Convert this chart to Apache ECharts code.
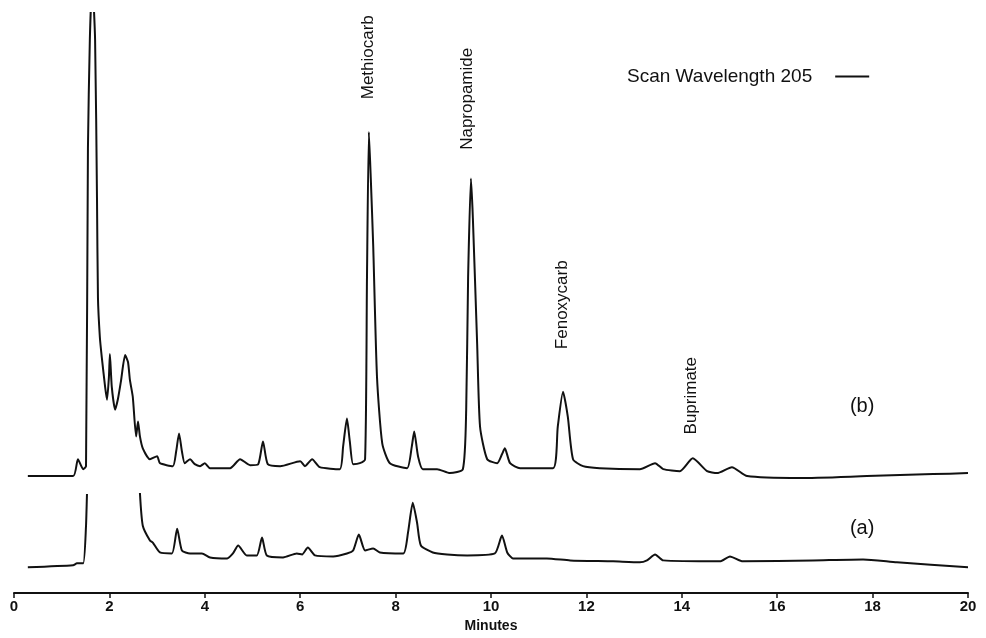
<!DOCTYPE html>
<html>
<head>
<meta charset="utf-8">
<script src="https://cdn.jsdelivr.net/npm/echarts@6/dist/echarts.min.js"></script>
<style>
html, body { margin: 0; padding: 0; background: #fff; }
#chart { width: 986px; height: 638px; }
</style>
</head>
<body>
<div id="chart"></div>
<script>
// trace (b): retention time (min) and detector response (arbitrary units)
var timeB = [0.29, 1.24, 1.34, 1.45, 1.51, 1.55, 1.59, 1.64, 1.70, 1.74, 1.76, 1.80, 1.84, 1.91, 1.95, 1.99,
    2.01, 2.05, 2.12, 2.18, 2.24, 2.33, 2.39, 2.43, 2.49, 2.56, 2.60, 2.64, 2.70, 2.85, 3.00, 3.06, 3.33,
    3.40, 3.46, 3.52, 3.58, 3.69, 3.79, 3.90, 4.00, 4.11, 4.53, 4.74, 4.95, 5.12, 5.22, 5.32, 5.58, 6.00,
    6.10, 6.25, 6.41, 6.83, 6.90, 6.98, 7.04, 7.11, 7.25, 7.36, 7.40, 7.44, 7.48, 7.53, 7.61, 7.72, 7.88,
    8.24, 8.34, 8.39, 8.47, 8.57, 8.87, 9.14, 9.41, 9.48, 9.52, 9.58, 9.62, 9.71, 9.77, 9.92, 10.13, 10.23,
    10.29, 10.40, 10.61, 11.30, 11.40, 11.51, 11.61, 11.72, 11.93, 12.28, 13.12, 13.44, 13.61, 13.96, 14.23,
    14.53, 14.74, 15.05, 15.37, 16.48, 17.88, 19.27, 20.00];
var respB = [23.6, 23.6, 27.0, 25.0, 25.6, 89.6, 111.6, 123.6, 111.6, 79.6, 59.6, 51.6, 47.6, 41.6, 39.0, 43.6,
    48.2, 41.6, 37.0, 39.2, 42.6, 48.0, 46.6, 43.0, 39.6, 31.6, 34.6, 31.6, 29.2, 27.0, 27.6, 26.2, 25.6,
    28.6, 32.2, 28.6, 26.2, 27.0, 26.0, 25.6, 26.2, 25.2, 25.2, 27.0, 25.8, 26.0, 30.6, 26.0, 25.6, 26.6,
    25.6, 27.0, 25.4, 25.0, 29.6, 35.2, 30.6, 26.0, 26.2, 27.0, 63.6, 93.0, 83.6, 70.2, 43.6, 30.2, 26.2,
    25.2, 29.6, 32.6, 27.6, 25.0, 25.0, 24.2, 25.0, 37.0, 63.6, 83.6, 75.6, 50.2, 33.6, 27.0, 26.2, 28.0,
    29.2, 26.2, 25.2, 25.2, 33.6, 40.6, 35.6, 27.0, 25.6, 25.2, 25.0, 26.2, 25.0, 24.6, 27.2,
    24.6, 24.2, 25.4, 23.6, 23.2, 23.6, 24.0, 24.2];

// trace (a): null marks the off-scale stretch that is not drawn
var timeA = [0.29, 1.24, 1.32, 1.45, 1.51, 1.53, 2.00, 2.64, 2.70, 2.85, 2.91, 3.06, 3.31, 3.42, 3.52, 3.69,
    3.94, 4.11, 4.47, 4.59, 4.70, 4.88, 5.09, 5.20, 5.30, 5.64, 5.93, 6.04, 6.16, 6.31, 6.69, 6.98, 7.11,
    7.23, 7.36, 7.53, 7.67, 8.16, 8.26, 8.36, 8.45, 8.53, 8.78, 9.08, 9.50, 10.08, 10.23, 10.34, 10.46,
    11.17, 11.66, 12.56, 13.12, 13.27, 13.44, 13.61, 14.80, 15.01, 15.28, 16.75, 17.80, 18.51, 20.00];
var respA = [5.2, 5.6, 6.0, 6.0, 13.6, 20.0, null, 20.2, 13.6, 10.6, 10.2, 8.2, 8.0, 13.0, 8.6, 8.0,
    8.0, 7.2, 7.0, 8.0, 9.6, 7.6, 7.6, 11.2, 7.6, 7.2, 8.0, 7.8, 9.2, 7.6, 7.4, 8.0, 8.6,
    11.8, 8.6, 9.0, 8.2, 8.0, 12.2, 18.2, 14.2, 9.6, 8.2, 7.8, 7.6, 8.0, 11.6, 8.2, 7.0,
    7.0, 6.6, 6.4, 6.2, 6.6, 7.8, 6.6, 6.4, 7.4, 6.4, 6.6, 6.8, 6.2, 5.2];

// peak names, with the time and height where each label starts
var peakNames = ['Methiocarb', 'Napropamide', 'Fenoxycarb', 'Buprimate'];
var peakTimes = [7.42, 9.50, 11.49, 14.20];
var peakHeights = [99.6, 89.4, 49.2, 32.0];

// trace tags
var traceNames = ['(b)', '(a)'];
var traceTimes = [17.78, 17.78];
var traceHeights = [37.6, 13.0];

function pairs(xs, ys) {
    return xs.map(function(x, i) {
        return [x, ys[i] === null ? '-' : ys[i]];
    });
}

var myChart = echarts.init(document.getElementById('chart'));

var peakData = peakNames.map(function(n, i) {
    return { name: n, value: [peakTimes[i], peakHeights[i]] };
});
var traceData = traceNames.map(function(n, i) {
    return { name: n, value: [traceTimes[i], traceHeights[i]] };
});

var option = {
    animation: false,
    backgroundColor: '#fff',
    textStyle: { fontFamily: 'Liberation Sans, Arial, sans-serif', color: '#111' },
    grid: { left: 14, right: 18, top: 13, bottom: 40 },
    legend: {
        data: ['Scan Wavelength 205'],
        left: 622,
        top: 62,
        align: 'right',
        icon: 'rect',
        itemWidth: 34,
        itemHeight: 2,
        textStyle: { fontSize: 19, color: '#111', padding: [0, 18, 0, 0] }
    },
    xAxis: {
        type: 'value',
        min: 0,
        max: 20,
        interval: 2,
        name: 'Minutes',
        nameLocation: 'middle',
        nameGap: 25,
        nameTextStyle: { fontSize: 14, fontWeight: 'bold', color: '#111' },
        axisLine: { lineStyle: { color: '#111', width: 2 } },
        axisTick: { length: 5, lineStyle: { color: '#111', width: 1.5 } },
        axisLabel: { fontSize: 15, fontWeight: 'bold', color: '#111', margin: 6 },
        splitLine: { show: false }
    },
    yAxis: {
        type: 'value',
        min: 0,
        max: 117,
        show: false
    },
    series: [
        {
            name: 'Scan Wavelength 205',
            type: 'line',
            data: pairs(timeB, respB),
            symbol: 'none',
            smooth: 0.2,
            lineStyle: { color: '#111', width: 2, join: 'round' },
            itemStyle: { color: '#111' }
        },
        {
            name: 'Trace (a)',
            type: 'line',
            data: pairs(timeA, respA),
            symbol: 'none',
            smooth: 0.2,
            connectNulls: false,
            lineStyle: { color: '#111', width: 2, join: 'round' },
            itemStyle: { color: '#111' }
        },
        {
            name: 'peaks',
            type: 'scatter',
            data: peakData,
            symbolSize: 1,
            itemStyle: { color: 'rgba(0,0,0,0)', opacity: 1 },
            label: {
                show: true,
                formatter: '{b}',
                position: 'inside',
                rotate: 90,
                align: 'left',
                verticalAlign: 'middle',
                fontSize: 17,
                color: '#111'
            }
        },
        {
            name: 'traces',
            type: 'scatter',
            data: traceData,
            symbolSize: 1,
            itemStyle: { color: 'rgba(0,0,0,0)', opacity: 1 },
            label: {
                show: true,
                formatter: '{b}',
                position: 'inside',
                fontSize: 20,
                color: '#111'
            }
        }
    ]
};

myChart.setOption(option);
</script>
</body>
</html>
